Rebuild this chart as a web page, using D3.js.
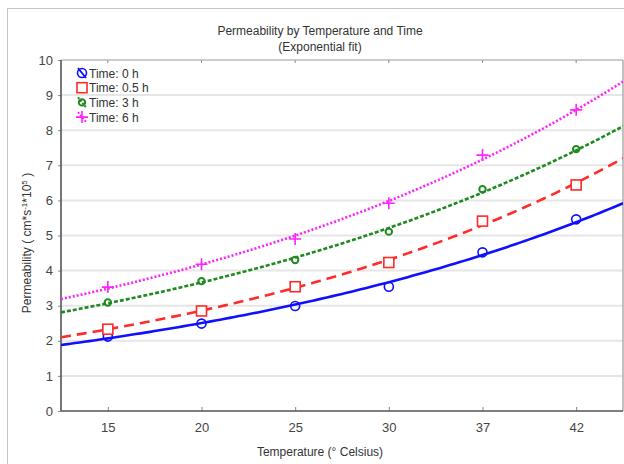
<!DOCTYPE html>
<html>
<head>
<meta charset="utf-8">
<script src="https://cdn.jsdelivr.net/npm/d3@7"></script>
<style>
  html, body { margin: 0; padding: 0; background: #fff; }
  svg { display: block; font-family: "Liberation Sans", Arial, sans-serif; }
</style>
</head>
<body>
<svg id="chart" width="624" height="464"></svg>
<script>
// Temperature categories (evenly spaced on the axis)
const temperatures = ["15", "20", "25", "30", "37", "42"];
const yTicks = [0, 1, 2, 3, 4, 5, 6, 7, 8, 9, 10];

// Measured permeability per exposure time
const time0h  = [2.12, 2.49, 2.99, 3.54, 4.52, 5.46];
const time05h = [2.33, 2.85, 3.54, 4.23, 5.41, 6.44];
const time3h  = [3.09, 3.70, 4.30, 5.11, 6.32, 7.46];
const time6h  = [3.53, 4.18, 4.90, 5.92, 7.29, 8.58];

const seriesNames = ["Time: 0 h", "Time: 0.5 h", "Time: 3 h", "Time: 6 h"];

const series = [
  { name: seriesNames[0], values: time0h,  color: "#1010ff", dash: null,  marker: "circle" },
  { name: seriesNames[1], values: time05h, color: "#ff2a2a", dash: "10,6", marker: "square" },
  { name: seriesNames[2], values: time3h,  color: "#1f8a1f", dash: "4,2", marker: "dot" },
  { name: seriesNames[3], values: time6h,  color: "#ff22ff", dash: "2,2", marker: "plus" }
];

const svg = d3.select("#chart");
const plot = { left: 61, right: 623, top: 60, bottom: 411 };

const x = d3.scaleLinear().domain([-0.5, temperatures.length - 0.5]).range([plot.left, plot.right]);
const y = d3.scaleLinear().domain([0, 10]).range([plot.bottom, plot.top]);

// Outer panel border
svg.append("rect")
  .attr("x", 7.5).attr("y", 8.5).attr("width", 640).attr("height", 480)
  .attr("fill", "none").attr("stroke", "#c4c4c4").attr("stroke-width", 1);

// Title
const title = svg.append("text").attr("text-anchor", "middle").attr("fill", "#333").attr("font-size", 12);
title.append("tspan").attr("x", 320).attr("y", 35).text("Permeability by Temperature and Time");
title.append("tspan").attr("x", 320).attr("y", 51).text("(Exponential fit)");

// Horizontal grid
svg.append("g")
  .selectAll("line")
  .data(yTicks.filter(d => d > 0 && d < 10))
  .join("line")
  .attr("x1", plot.left).attr("x2", plot.right)
  .attr("y1", d => y(d)).attr("y2", d => y(d))
  .attr("stroke", "#e6e6e6").attr("stroke-width", 2);

// Y axis
const yAxis = d3.axisLeft(y).tickValues(yTicks).tickSize(3).tickPadding(5).tickFormat(d3.format("d"));
const gy = svg.append("g").attr("transform", `translate(${plot.left},0)`).call(yAxis);
gy.select(".domain").remove();
gy.selectAll(".tick line").attr("stroke", "#888");
gy.selectAll(".tick text").attr("fill", "#444").attr("font-size", 13)
  .attr("font-family", "Liberation Sans, Arial, sans-serif");

// X axis (ticks drawn inward)
const xAxis = d3.axisBottom(x).tickValues(d3.range(temperatures.length))
  .tickFormat(i => temperatures[i]).tickSize(-4).tickPadding(12);
const gx = svg.append("g").attr("transform", `translate(0,${plot.bottom})`).call(xAxis);
gx.select(".domain").remove();
gx.selectAll(".tick line").attr("stroke", "#888");
gx.selectAll(".tick text").attr("fill", "#444").attr("font-size", 13)
  .attr("font-family", "Liberation Sans, Arial, sans-serif");

// Top ticks
svg.append("g").selectAll("line")
  .data(d3.range(temperatures.length))
  .join("line")
  .attr("x1", d => x(d)).attr("x2", d => x(d))
  .attr("y1", plot.top).attr("y2", plot.top + 3)
  .attr("stroke", "#888");

// Frame
svg.append("line").attr("x1", plot.left).attr("x2", plot.right).attr("y1", plot.top).attr("y2", plot.top)
  .attr("stroke", "#999").attr("stroke-width", 1.2);
svg.append("line").attr("x1", plot.right).attr("x2", plot.right).attr("y1", plot.top).attr("y2", plot.bottom)
  .attr("stroke", "#999").attr("stroke-width", 1.2);
svg.append("line").attr("x1", plot.left).attr("x2", plot.left).attr("y1", plot.top).attr("y2", plot.bottom)
  .attr("stroke", "#555").attr("stroke-width", 1.6);
svg.append("line").attr("x1", plot.left).attr("x2", plot.right).attr("y1", plot.bottom).attr("y2", plot.bottom)
  .attr("stroke", "#555").attr("stroke-width", 1.6);

// Axis titles
svg.append("text").attr("x", 320).attr("y", 456).attr("text-anchor", "middle")
  .attr("fill", "#333").attr("font-size", 12).text("Temperature (° Celsius)");
const yTitle = svg.append("text")
  .attr("transform", "translate(31,243) rotate(-90)")
  .attr("text-anchor", "middle").attr("fill", "#333").attr("font-size", 12);
yTitle.append("tspan").text("Permeability ( cm*s");
yTitle.append("tspan").attr("font-size", 8).attr("dy", -4).text("-1");
yTitle.append("tspan").attr("dy", 4).text("*10");
yTitle.append("tspan").attr("font-size", 8).attr("dy", -4).text("5");
yTitle.append("tspan").attr("dy", 4).text(" )");

// Exponential fit y = a*exp(b*i), least squares on log values
function expFit(values) {
  const n = values.length;
  const xs = d3.range(n);
  const ls = values.map(Math.log);
  const mx = d3.mean(xs), ml = d3.mean(ls);
  const sxy = d3.sum(xs, (xi, k) => (xi - mx) * (ls[k] - ml));
  const sxx = d3.sum(xs, xi => (xi - mx) * (xi - mx));
  const b = sxy / sxx;
  const a = Math.exp(ml - b * mx);
  return t => a * Math.exp(b * t);
}

svg.append("defs").append("clipPath").attr("id", "plotClip")
  .append("rect").attr("x", plot.left).attr("y", plot.top)
  .attr("width", plot.right - plot.left).attr("height", plot.bottom - plot.top);

const samples = d3.range(-0.5, temperatures.length - 0.5 + 0.001, 0.05);
const line = d3.line().x(d => x(d[0])).y(d => y(d[1]));

function drawMarker(g, type, cx, cy, color) {
  if (type === "circle") {
    g.append("circle").attr("cx", cx).attr("cy", cy).attr("r", 4.5)
      .attr("fill", "none").attr("stroke", color).attr("stroke-width", 1.6);
  } else if (type === "square") {
    g.append("rect").attr("x", cx - 5).attr("y", cy - 5).attr("width", 10).attr("height", 10)
      .attr("fill", "#fff").attr("stroke", color).attr("stroke-width", 1.6);
  } else if (type === "dot") {
    g.append("circle").attr("cx", cx).attr("cy", cy).attr("r", 3.2)
      .attr("fill", "none").attr("stroke", color).attr("stroke-width", 2);
  } else if (type === "plus") {
    g.append("path").attr("d", `M${cx - 6},${cy}H${cx + 6}M${cx},${cy - 6}V${cy + 6}`)
      .attr("stroke", color).attr("stroke-width", 1.6);
  }
}

const dataG = svg.append("g").attr("clip-path", "url(#plotClip)");
series.forEach(s => {
  const f = expFit(s.values);
  dataG.append("path")
    .datum(samples.map(t => [t, f(t)]))
    .attr("d", line)
    .attr("fill", "none")
    .attr("stroke", s.color)
    .attr("stroke-width", 2.6)
    .attr("stroke-dasharray", s.dash);
  const mg = dataG.append("g");
  s.values.forEach((v, i) => drawMarker(mg, s.marker, x(i), y(v), s.color));
});

// Legend
const legend = svg.append("g");
series.forEach((s, k) => {
  const cy = 73 + k * 14.7;
  const cx = 82;
  legend.append("line")
    .attr("x1", cx - 4).attr("y1", cy - 5).attr("x2", cx + 4).attr("y2", cy + 5)
    .attr("stroke", s.color).attr("stroke-width", 2).attr("stroke-dasharray", s.dash ? "2,1.5" : null);
  drawMarker(legend, s.marker, cx, cy, s.color);
  legend.append("text").attr("x", 89).attr("y", cy + 4.5)
    .attr("fill", "#333").attr("font-size", 12).text(s.name);
});
</script>
</body>
</html>
